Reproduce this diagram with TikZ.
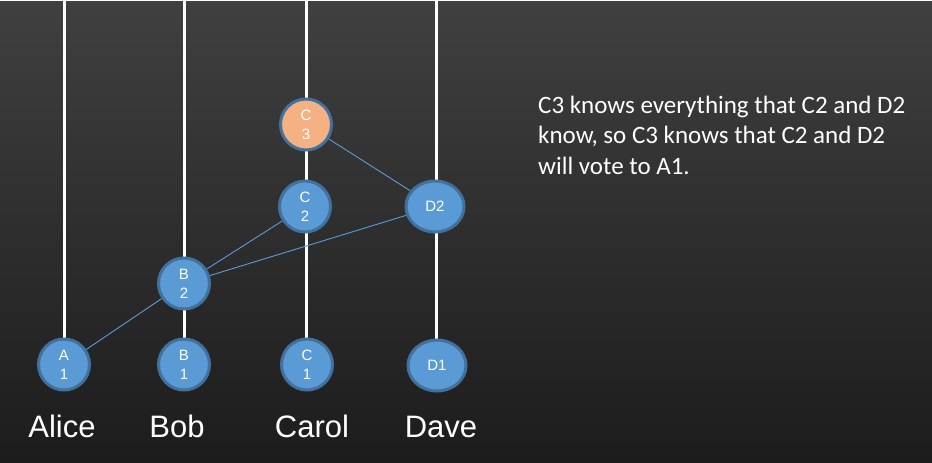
\documentclass[tikz,border=0pt]{standalone}
\usepackage{fontspec}
\setmainfont{Liberation Sans}
\newfontfamily\notefont{Carlito}
\usetikzlibrary{positioning,shapes.geometric}
\definecolor{evblue}{HTML}{5B9BD5}
\definecolor{evedge}{HTML}{41719C}
\definecolor{evorange}{HTML}{F4B183}
\tikzset{
    evnode/.style={align=center, inner sep=0pt, white, font=\fontsize{15}{19}\selectfont, draw=evedge, line width=3pt},
    % Event of one process
    node_ev/.style = {evnode, circle, fill=evblue, minimum size=51pt},
    node_evw/.style = {evnode, ellipse, fill=evblue, minimum width=58pt, minimum height=51pt},
    % Event that knows
    node_kn/.style = {evnode, circle, fill=evorange, minimum size=51pt},
    timeline/.style = {white, line width=3pt},
    msg/.style = {evblue, line width=0.9pt},
    procname/.style = {white, font=\fontsize{31}{38}\selectfont}
}

\begin{document}
\begin{tikzpicture}[x=1pt, y=-1pt]

        \shade[top color=black!75, bottom color=black!89] (0,0) rectangle (932,461);
        \coordinate (top) at (0,0);

        % timelines
        \draw[timeline] (64,363) -- (64,0);
        \draw[timeline] (184,363) -- (184,0);
        \draw[timeline] (306,363) -- (306,0);
        \draw[timeline] (436,364) -- (436,0);

        \node[node_ev] (A1) at (64,363) {A\\1};
        \node[node_ev] (B1) at (184,363) {B\\1};
        \node[node_ev] (B2) at (184,282) {B\\2};
        \node[node_ev] (C1) at (307,363) {C\\1};
        \node[node_ev] (C2) at (305,205) {C\\2};
        \node[node_kn] (C3) at (306,123) {C\\3};
        \node[node_evw] (D1) at (437,364) {D1};
        \node[node_evw] (D2) at (435,205) {D2};

        \draw[msg] (A1) -- (B2);
        \draw[msg] (B2) -- (C2);
        \draw[msg] (B2) -- (D2);
        \draw[msg] (D2) -- (C3);

        \node[procname, anchor=base] (alice) at (62,436) {Alice};
        \node[procname, anchor=base] (bob) at (177,436) {Bob};
        \node[procname, anchor=base] (carol) at (312,436) {Carol};
        \node[procname, anchor=base] (dave) at (441,436) {Dave};

        % base of the note is its last line
        \node[white, anchor=base west, align=left, inner sep=0pt, font=\notefont\fontsize{25}{30.7}\selectfont] (note) at (538,173)
            {C3 knows everything that C2 and D2\\know, so C3 knows that C2 and D2\\will vote to A1.};
    \end{tikzpicture}
\end{document}
